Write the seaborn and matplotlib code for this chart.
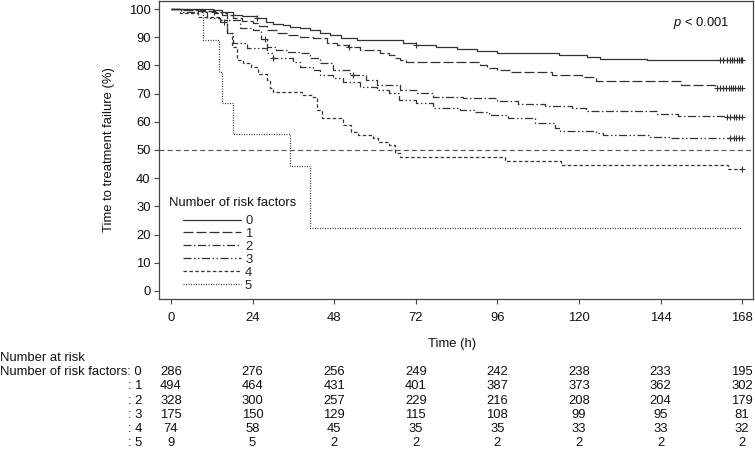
import numpy as np
import pandas as pd
import matplotlib
matplotlib.use("Agg")
import matplotlib.pyplot as plt
import seaborn as sns
from matplotlib.transforms import blended_transform_factory

# ---------------- data ----------------
groups = ["0", "1", "2", "3", "4", "5"]

t0 = [0, 12.4, 15, 18.3, 21, 25.2, 28, 30, 33, 35, 38, 40.9, 43.8, 46.8, 50, 54.6, 68.2, 72, 78, 84, 90, 96, 114, 122.5, 126.3, 140, 168]
s0 = [100, 99.6, 99, 97.9, 97.4, 96.7, 95.5, 94.7, 94.2, 93.7, 93.1, 92.6, 91.4, 90.8, 89.8, 89.0, 87.8, 87.2, 86.5, 85.7, 85.2, 84.5, 83.7, 82.9, 82.3, 82.0, 82.0]

t1 = [0, 3, 8, 12.7, 15, 18.3, 21, 24.2, 26, 28.2, 31.1, 34, 38, 41.8, 45.8, 48.8, 52.2, 55.6, 61.5, 64, 66, 67.5, 69, 91, 93, 96, 100, 112, 121, 125, 150, 160, 168]
s1 = [100, 99.6, 99.2, 98.8, 97.8, 96.7, 95.8, 94.9, 93.8, 92.6, 91.4, 90.8, 90.2, 89.6, 87.8, 87.2, 86.4, 85.5, 84.5, 83.7, 82.6, 81.9, 81.3, 80.1, 79.0, 78.4, 77.8, 76.6, 75.8, 74.5, 72.9, 71.9, 71.9]

t2 = [0, 5, 10, 13, 16.4, 20.3, 24.2, 26.5, 28.2, 31, 34, 38, 41, 43.8, 47.7, 52.6, 57.5, 60.5, 67.4, 72.3, 77, 86, 96, 102, 110, 118, 122, 143, 149, 163, 168]
s2 = [100, 99.7, 99.3, 98.5, 96.1, 93.1, 92.5, 89.5, 86.6, 85.5, 84.8, 84.3, 82.5, 80.7, 78.4, 76.6, 74.8, 73.0, 71.3, 70.1, 68.9, 68.3, 67.5, 66.3, 65.5, 64.8, 63.9, 62.8, 62.2, 61.7, 61.7]

t3 = [0, 3, 10.5, 14.4, 16.4, 18.3, 22.3, 28.2, 30.1, 36, 38, 41.9, 43.8, 47.7, 50.7, 55.6, 60.5, 64, 67, 72, 77, 85, 89, 93.5, 99, 107, 113, 114.5, 125, 127, 141, 147, 168]
s3 = [100, 98.9, 96.7, 95.5, 91.4, 87.8, 86.1, 84.3, 82.5, 81.3, 79.5, 78.4, 76.6, 75.4, 74.2, 72.4, 71.3, 70.1, 67.7, 66.6, 64.8, 64.2, 63.6, 62.4, 61.2, 59.5, 57.7, 56.8, 55.9, 55.3, 54.7, 54.1, 54.1]

t4 = [0, 2.6, 8, 14.4, 16.4, 17.9, 19.4, 21.2, 23.5, 25.5, 28.2, 29.2, 30.1, 38.5, 41.4, 42.8, 44.3, 50.6, 53, 55.1, 59.5, 61, 64, 66, 67.5, 98.2, 114.7, 163.8, 168]
s4 = [100, 98.6, 97.3, 96.1, 91.5, 86.5, 81.9, 80.8, 79.4, 77.0, 75.0, 72.0, 70.5, 69.5, 68.8, 64.2, 61.3, 58.9, 56.5, 55.3, 54.1, 52.9, 51.8, 49.1, 47.6, 46.1, 44.8, 43.2, 43.2]

t5 = [0, 9.5, 14.2, 15, 18.2, 34.9, 40.9, 168]
s5 = [100, 88.9, 77.8, 66.7, 55.6, 44.4, 22.2, 22.2]

c0 = [25.2, 72, 161.5, 162.5, 163.5, 164.3, 165, 165.7, 166.4, 167, 167.6, 168]
c1 = [12.7, 52.3, 160.6, 161.5, 162.4, 163.3, 164, 164.7, 165.4, 166, 166.7, 167.3, 168]
c2 = [27.6, 53.6, 163.5, 164.5, 165.5, 166.3, 167.1, 168]
c3 = [15.6, 30.1, 164.5, 165.5, 166.3, 167.1, 168]
c4 = [168]
c5 = []

risk_times = [0, 24, 48, 72, 96, 120, 144, 168]
risk_0 = [286, 276, 256, 249, 242, 238, 233, 195]
risk_1 = [494, 464, 431, 401, 387, 373, 362, 302]
risk_2 = [328, 300, 257, 229, 216, 208, 204, 179]
risk_3 = [175, 150, 129, 115, 108, 99, 95, 81]
risk_4 = [74, 58, 45, 35, 35, 33, 33, 32]
risk_5 = [9, 5, 2, 2, 2, 2, 2, 2]

x_ticks = [0, 24, 48, 72, 96, 120, 144, 168]
y_ticks = [0, 10, 20, 30, 40, 50, 60, 70, 80, 90, 100]

# ---------------- build frames ----------------
T = [t0, t1, t2, t3, t4, t5]
S = [s0, s1, s2, s3, s4, s5]
C = [c0, c1, c2, c3, c4, c5]
R = [risk_0, risk_1, risk_2, risk_3, risk_4, risk_5]

curve_df = pd.concat(
    [pd.DataFrame({"time": t, "surv": s, "group": g}) for g, t, s in zip(groups, T, S)],
    ignore_index=True,
)
cens_rows = []
for g, t, s, c in zip(groups, T, S, C):
    for ct in c:
        idx = np.searchsorted(t, ct, side="right") - 1
        cens_rows.append({"time": ct, "surv": s[idx], "group": g})
cens_df = pd.DataFrame(cens_rows)

# ---------------- style ----------------
sns.set_theme(style="ticks")
plt.rcParams["font.family"] = ["Liberation Sans", "DejaVu Sans"]
plt.rcParams["mathtext.fontset"] = "custom"
plt.rcParams["mathtext.it"] = "Liberation Sans:italic"
plt.rcParams["mathtext.rm"] = "Liberation Sans"
FS = 9.4
LC = "#333333"
EC = "#444444"
TC = "#111111"

W, H = 755, 457
fig = plt.figure(figsize=(W / 100, H / 100), dpi=100)
ax = fig.add_axes([159 / W, 1 - 299 / H, 594 / W, 298 / H])

dash_map = {
    "0": "",
    "1": (8, 2.4),
    "2": (6.4, 2.0, 1.2, 2.0),
    "3": (6.4, 2.0, 1.2, 2.0, 1.2, 2.0),
    "4": (2.8, 1.9),
    "5": (0.8, 1.2),
}

sns.lineplot(
    data=curve_df, x="time", y="surv", style="group", style_order=groups,
    dashes=dash_map, color=LC, linewidth=0.9, drawstyle="steps-post",
    estimator=None, sort=False, legend=False, ax=ax,
)
curve_lines = list(ax.lines)

sns.scatterplot(
    data=cens_df, x="time", y="surv", marker="+", s=22, color=LC,
    linewidth=0.8, legend=False, ax=ax,
)

ax.axhline(50, color="#555555", linewidth=0.85, dashes=(4.2, 2.7))

ax.set_xlim(-3.53, 171.2)
ax.set_ylim(-2.84, 102.84)
ax.set_xticks(x_ticks)
ax.set_yticks(y_ticks)
ax.set_xticklabels([str(v) for v in x_ticks], fontsize=FS)
ax.set_yticklabels([str(v) for v in y_ticks], fontsize=FS)
ax.tick_params(axis="x", length=3.6, width=0.8, color=EC, pad=6.0, labelcolor=TC)
ax.tick_params(axis="y", length=3.6, width=0.8, color=EC, pad=2.4, labelcolor=TC)
for sp in ax.spines.values():
    sp.set_color(EC)
    sp.set_linewidth(0.9)

ax.set_xlabel("Time (h)", fontsize=FS, color=TC)
ax.set_ylabel("Time to treatment failure (%)", fontsize=FS, color=TC)
ax.xaxis.set_label_coords((452 - 159) / 594, (299 - 338) / 298)
ax.yaxis.set_label_coords((115 - 159) / 594, 0.5)

# legend
fig.text(169 / W, 1 - 203.5 / H, "Number of risk factors", fontsize=FS, ha="left", va="center", color=TC)
ax.legend(
    handles=curve_lines, labels=groups, loc="upper left",
    bbox_to_anchor=(183 / W, 1 - 215 / H), bbox_transform=fig.transFigure,
    frameon=False, borderpad=0, borderaxespad=0, handlelength=4.45,
    handletextpad=0.3, labelspacing=0.06, fontsize=FS,
)

# p value
fig.text(673 / W, 1 - 22.7 / H, r"$p$ < 0.001", fontsize=FS, ha="left", va="center", color=TC)

# risk table
trans = blended_transform_factory(ax.transData, fig.transFigure)
fig.text(0.5 / W, 1 - 360.8 / H, "Number at risk", fontsize=FS, ha="left", va="baseline", color=TC)
base0 = 375.3
step = 14.17
for i, (g, row) in enumerate(zip(groups, R)):
    yb = 1 - (base0 + i * step) / H
    lab = f"Number of risk factors: {g}" if i == 0 else f": {g}"
    fig.text(142 / W, yb, lab, fontsize=FS, ha="right", va="baseline", color=TC)
    for tt, n in zip(risk_times, row):
        ax.text(tt, yb, str(n), transform=trans, fontsize=FS, ha="center",
                va="baseline", color=TC, clip_on=False)

fig.savefig("out.png", dpi=100)
